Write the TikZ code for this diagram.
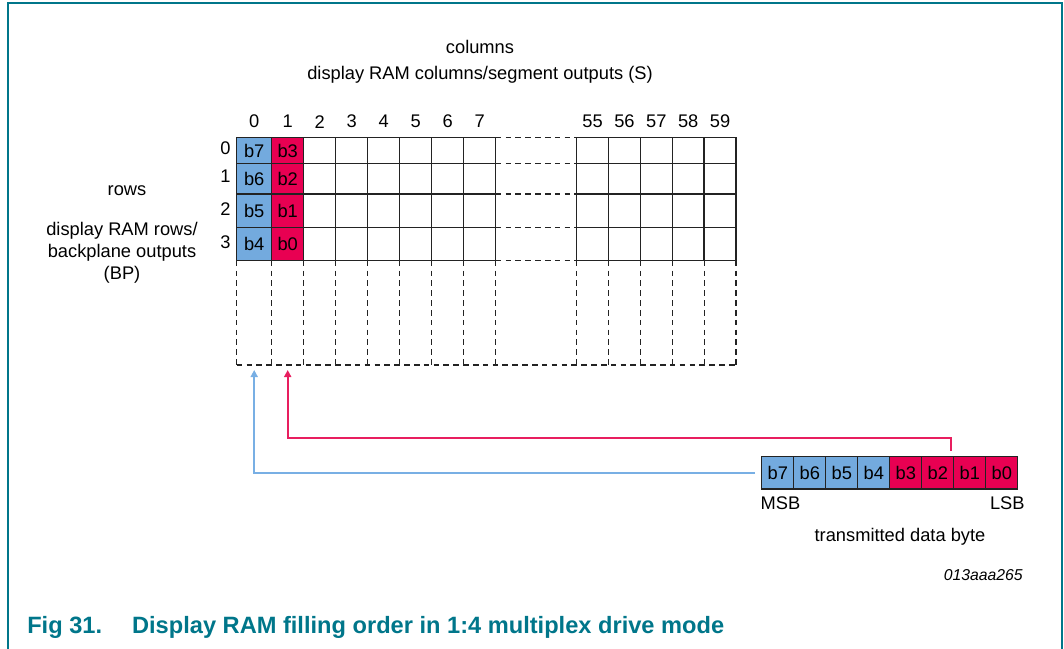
\documentclass[tikz,border=0pt]{standalone}
\usepackage{fontspec}
\setmainfont{Liberation Sans}
\usepackage{tikz}
\usetikzlibrary{
  arrows.meta,
  positioning
}
\definecolor{ramblue}{RGB}{115,170,222}
\definecolor{ramred}{RGB}{232,0,82}
\definecolor{ramlineblue}{RGB}{120,175,228}
\definecolor{ramlinered}{RGB}{232,30,95}
\definecolor{ramteal}{RGB}{0,118,138}
\definecolor{ramgrid}{RGB}{35,35,35}
\tikzset{
  ramCell/.style={
    rectangle,
    draw=ramgrid,
    line width=1pt,
    inner sep=0pt,
    outer sep=0pt
  },
  ramBlue/.style={
    ramCell,
    fill=ramblue
  },
  ramRed/.style={
    ramCell,
    fill=ramred
  },
  byteCell/.style={
    rectangle,
    draw=ramgrid,
    line width=0.9pt,
    minimum width=0.8cm,
    minimum height=0.81cm,
    inner sep=0pt,
    outer sep=0pt
  },
  ramDash/.style={
    draw=ramgrid,
    line width=0.9pt,
    dash pattern=on 4pt off 3pt
  },
  ramLabel/.style={
    inner sep=0pt,
    align=center
  },
  blueArrow/.style={
    -{Triangle[length=5pt,width=5pt]},
    line width=1.2pt,
    draw=ramlineblue
  },
  redArrow/.style={
    -{Triangle[length=5pt,width=5pt]},
    line width=1.2pt,
    draw=ramlinered
  }
}

\begin{document}
\begin{tikzpicture}[x=0.025cm, y=-0.025cm,
  font=\fontsize{13}{15.6}\selectfont]
  \useasboundingbox (0,0) rectangle (1064,649);

  % frame
  \draw[ramteal, line width=1pt] (8,649) -- (8,3) -- (1062,3) -- (1062,649);

  \node[ramLabel] (colTitle) at (480,47) {columns};
  \node[ramLabel] (colSub) at (480,75)
    {display RAM columns/segment outputs (S)};

  \node[ramLabel] (rowTitle) at (127,190.7) {rows};
  \node[ramLabel] (rowSub) at (122,253)
    {display RAM rows/\\backplane outputs\\(BP)};

  % column numbers
  \node[ramLabel] (col-0) at (254.2,121.7) {0};
  \foreach \c in {1,...,7}
    \node[ramLabel] (col-\c) at ({255.7+32*\c},121.7) {\c};
  \foreach \c in {55,...,59}
    \node[ramLabel] (col-\c) at ({592.6+31.86*(\c-55)},121.7) {\c};

  % RAM cells, row by row
  \foreach \r/\yc/\h/\hi/\lo in {0/150.5/25.6/7/3, 1/178.65/30.7/6/2,
                                 2/210.65/33.3/5/1, 3/244/33.4/4/0} {
    \node[ramBlue, minimum width=35*0.025cm, minimum height=\h*0.025cm]
      (cell-\r-0) at (254.2,\yc) {b\hi};
    \node[ramRed, minimum width=32*0.025cm, minimum height=\h*0.025cm]
      (cell-\r-1) at (287.7,\yc) {b\lo};
    \foreach \c in {2,...,7}
      \node[ramCell, minimum width=32*0.025cm, minimum height=\h*0.025cm]
        (cell-\r-\c) at ({255.7+32*\c},\yc) {};
    \foreach \c in {55,...,59}
      \node[ramCell, minimum width=31.86*0.025cm, minimum height=\h*0.025cm]
        (cell-\r-\c) at ({592.6+31.86*(\c-55)},\yc) {};
    \node[ramLabel] (row-\r) at (225.5,\yc-2) {\r};
  }

  % gap between column 7 and column 55
  \foreach \y in {137.7,163.3,194,227.3,260.7}
    \draw[ramDash] (495.7,\y) -- (576.7,\y);
  % rows not used in 1:4 mode
  \foreach \x in {236.7,271.7,303.7,335.7,367.7,399.7,431.7,463.7,495.7,
                  576.7,608.56,640.42,672.28,704.14,736}
    \draw[ramDash] (\x,260.7) -- (\x,365);
  \draw[ramDash] (236.7,365) -- (736,365);

  % transmitted byte
  \node[byteCell, fill=ramblue] (b7) at (777.75,472.85) {b7};
  \node[byteCell, fill=ramblue, right=0pt of b7] (b6) {b6};
  \node[byteCell, fill=ramblue, right=0pt of b6] (b5) {b5};
  \node[byteCell, fill=ramblue, right=0pt of b5] (b4) {b4};
  \node[byteCell, fill=ramred, right=0pt of b4] (b3) {b3};
  \node[byteCell, fill=ramred, right=0pt of b3] (b2) {b2};
  \node[byteCell, fill=ramred, right=0pt of b2] (b1) {b1};
  \node[byteCell, fill=ramred, right=0pt of b1] (b0) {b0};

  \node[ramLabel, anchor=north west] (msb)
    at ([xshift=-1pt, yshift=-5.2pt]b7.south west) {MSB};
  \node[ramLabel, anchor=north east] (lsb)
    at ([xshift=5pt, yshift=-5.2pt]b0.south east) {LSB};
  \node[ramLabel] (byteTitle) at (900,536.7) {transmitted data byte};

  \coordinate (blueEnd) at (254.2,370);
  \coordinate (redEnd) at (287.7,370);

  \draw[blueArrow] ([xshift=-4.7pt]b7.west) -| (blueEnd);
  \draw[redArrow] ([xshift=-1.8pt, yshift=4.2pt]b2.north east)
    -- ++(0,-13) -| (redEnd);

  \node[ramLabel, anchor=east, font=\fontsize{11.2}{13}\itshape\selectfont]
    (figId) at (1023,575) {013aaa265};

  \node[ramLabel, anchor=base west, text=ramteal,
    font=\fontsize{16.8}{20}\bfseries\selectfont]
    (caption) at (27,633)
    {Fig 31.\hspace{0.9em} Display RAM filling order in 1:4 multiplex drive mode};
\end{tikzpicture}
\end{document}
